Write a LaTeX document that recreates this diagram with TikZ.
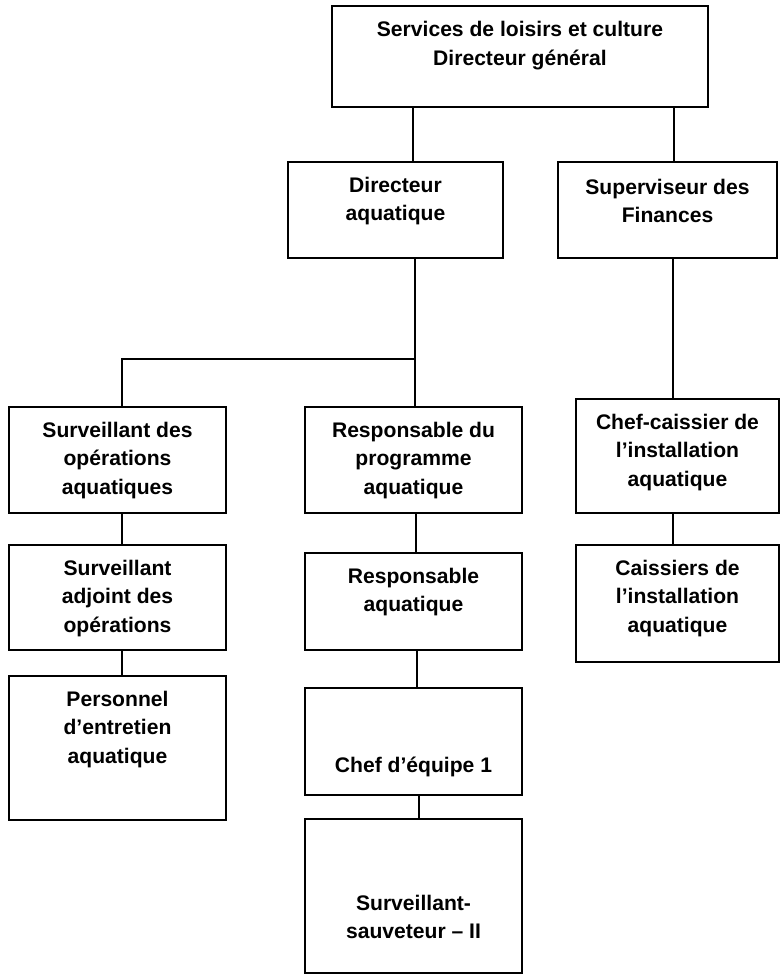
\documentclass[tikz,border=0pt]{standalone}
\usepackage{fontspec}
\setmainfont{Liberation Sans}
\begin{document}
\begin{tikzpicture}[x=1pt,y=-1pt,
  box/.style={draw, line width=1.8pt, inner sep=0pt, outer sep=0pt},
  lbl/.style={align=center, inner sep=0pt, font=\bfseries\fontsize{21.1}{28.5}\selectfont},
  link/.style={line width=1.2pt}]
\useasboundingbox (0,0) rectangle (781,974);
\node[box, minimum width=376, minimum height=101] (dg) at (520,56.5){};
\node[lbl] (dg-t) at (520,45.5){Services de loisirs et culture\\Directeur général};
\node[box, minimum width=215, minimum height=96] (da) at (395.5,210){};
\node[lbl] (da-t) at (395.5,201){Directeur\\aquatique};
\node[box, minimum width=219, minimum height=96] (sf) at (667.5,210){};
\node[lbl] (sf-t) at (667.5,201){Superviseur des\\Finances};
\draw[link](dg.south -| 413,0) -- (da.north -| 413,0);
\draw[link](dg.south -| 674,0) -- (sf.north -| 674,0);
\node[box, minimum width=217, minimum height=106] (so) at (117.5,460){};
\node[lbl] (so-t) at (117.5,460.5){Surveillant des\\opérations\\aquatiques};
\node[box, minimum width=217, minimum height=106] (rp) at (413.5,460){};
\node[lbl] (rp-t) at (413.5,460.5){Responsable du\\programme\\aquatique};
\node[box, minimum width=203, minimum height=114] (cc) at (677.5,456){};
\node[lbl] (cc-t) at (677.5,452.5){Chef-caissier de\\l’installation\\aquatique};
\coordinate (split) at (415,359);
\draw[link](da.south -| 415,0) -- (rp.north -| 415,0);
\draw[link](split) -| (so.north -| 122,0);
\draw[link](sf.south -| 673,0) -- (cc.north -| 673,0);
\node[box, minimum width=217, minimum height=105] (sa) at (117.5,597.5){};
\node[lbl] (sa-t) at (117.5,598.5){Surveillant\\adjoint des\\opérations};
\node[box, minimum width=217, minimum height=144] (pe) at (117.5,748){};
\node[lbl] (pe-t) at (117.5,729.5){Personnel\\d’entretien\\aquatique};
\draw[link](so.south -| 122,0) -- (sa.north -| 122,0);
\draw[link](sa.south -| 122,0) -- (pe.north -| 122,0);
\node[box, minimum width=217, minimum height=97] (ra) at (413.5,601.5){};
\node[lbl] (ra-t) at (413.5,592){Responsable\\aquatique};
\node[box, minimum width=217, minimum height=107] (ce) at (413.5,741.5){};
\node[lbl] (ce-t) at (413.5,767){Chef d’équipe 1};
\node[box, minimum width=217, minimum height=154] (ss) at (413.5,896){};
\node[lbl] (ss-t) at (413.5,917){Surveillant-\\sauveteur – II};
\draw[link](rp.south -| 416,0) -- (ra.north -| 416,0);
\draw[link](ra.south -| 417,0) -- (ce.north -| 417,0);
\draw[link](ce.south -| 419,0) -- (ss.north -| 419,0);
\node[box, minimum width=203, minimum height=117] (ci) at (677.5,603.5){};
\node[lbl] (ci-t) at (677.5,598.5){Caissiers de\\l’installation\\aquatique};
\draw[link](cc.south -| 673,0) -- (ci.north -| 673,0);

\end{tikzpicture}
\end{document}
